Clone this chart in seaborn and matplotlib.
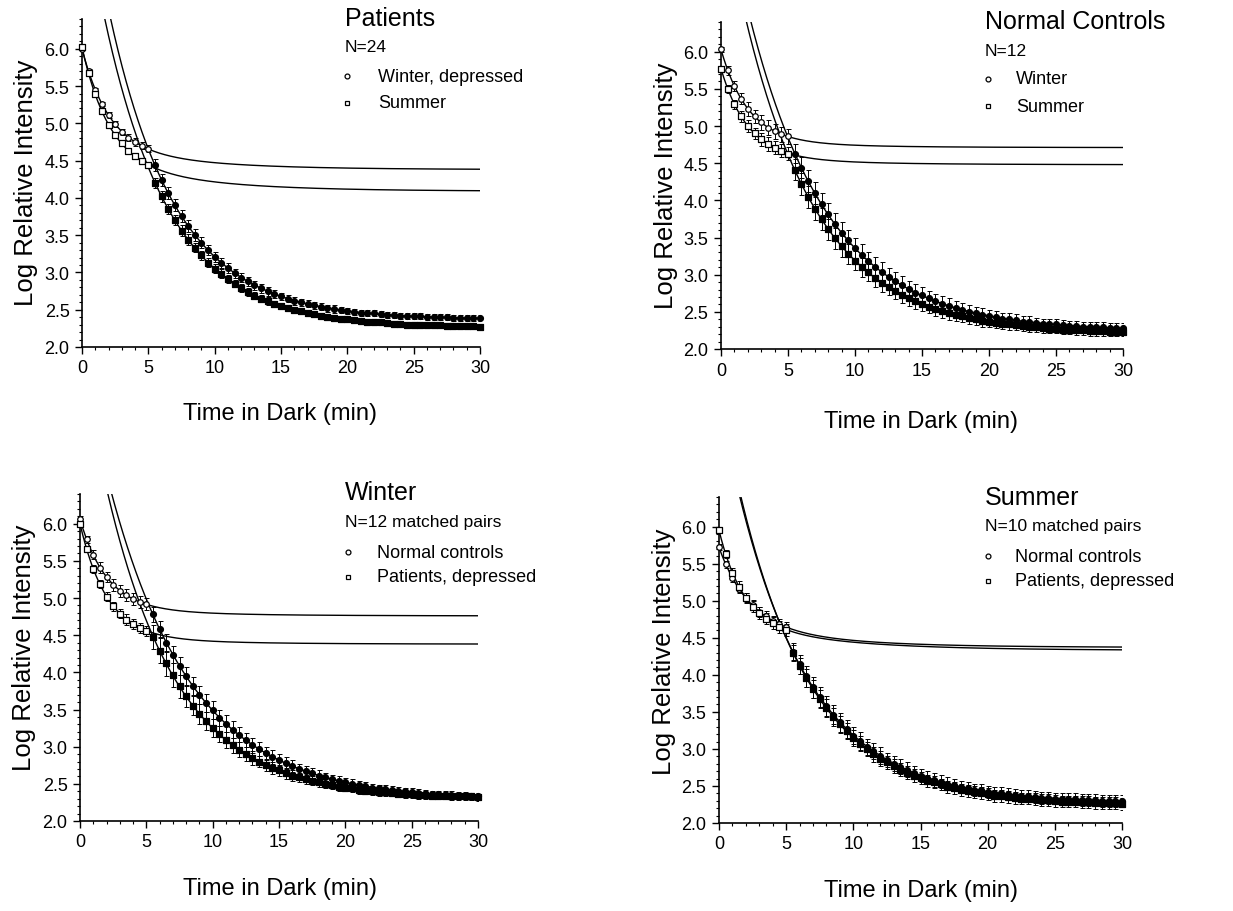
import numpy as np
import pandas as pd
import matplotlib
matplotlib.use("Agg")
import matplotlib.pyplot as plt
import seaborn as sns
from matplotlib.ticker import MultipleLocator, FormatStrFormatter
from matplotlib.lines import Line2D

sns.set_theme(style="ticks")
plt.rcParams['font.family'] = ['Liberation Sans', 'DejaVu Sans']
plt.rcParams['text.color'] = 'black'
plt.rcParams['axes.labelcolor'] = 'black'
plt.rcParams['xtick.color'] = 'black'
plt.rcParams['ytick.color'] = 'black'

# ---------------- time grid (min) ----------------
T_CONE = np.arange(0, 5.01, 0.5)      # open symbols (cone phase)
T_ROD = np.arange(5.5, 30.01, 0.5)    # filled symbols (rod phase)

# ---------------- Panel 1: Patients, N=24 ----------------
p1_winter_cone = [6.00, 5.70, 5.45, 5.26, 5.11, 4.99, 4.89, 4.81, 4.75, 4.70, 4.66]
p1_winter_rod = [4.44, 4.24, 4.06, 3.90, 3.76, 3.62, 3.50, 3.40, 3.30, 3.21,
                 3.13, 3.06, 2.99, 2.93, 2.88, 2.83, 2.79, 2.75, 2.71, 2.68,
                 2.65, 2.62, 2.60, 2.58, 2.56, 2.54, 2.52, 2.51, 2.50, 2.48,
                 2.47, 2.46, 2.45, 2.45, 2.44, 2.43, 2.43, 2.42, 2.42, 2.41,
                 2.41, 2.40, 2.40, 2.40, 2.40, 2.39, 2.39, 2.39, 2.39, 2.39]
p1_winter_cone_sem = [0.02, 0.03, 0.03, 0.03, 0.04, 0.04, 0.04, 0.05, 0.05, 0.05, 0.05]
p1_winter_rod_sem = [0.08, 0.08, 0.08, 0.08, 0.08, 0.08, 0.08, 0.07, 0.07, 0.07,
                     0.07, 0.07, 0.06, 0.06, 0.06, 0.06, 0.06, 0.06, 0.05, 0.05,
                     0.05, 0.05, 0.05, 0.05, 0.05, 0.05, 0.05, 0.05, 0.04, 0.04,
                     0.04, 0.04, 0.04, 0.04, 0.04, 0.04, 0.04, 0.04, 0.04, 0.04,
                     0.04, 0.04, 0.04, 0.04, 0.04, 0.04, 0.04, 0.04, 0.04, 0.04]
p1_summer_cone = [6.02, 5.67, 5.39, 5.16, 4.98, 4.84, 4.73, 4.63, 4.56, 4.50, 4.44]
p1_summer_rod = [4.20, 4.02, 3.85, 3.70, 3.56, 3.44, 3.33, 3.23, 3.13, 3.05,
                 2.98, 2.91, 2.85, 2.79, 2.74, 2.69, 2.65, 2.62, 2.58, 2.55,
                 2.52, 2.50, 2.48, 2.46, 2.44, 2.42, 2.40, 2.39, 2.38, 2.37,
                 2.36, 2.35, 2.34, 2.33, 2.33, 2.32, 2.31, 2.31, 2.30, 2.30,
                 2.30, 2.29, 2.29, 2.29, 2.28, 2.28, 2.28, 2.28, 2.28, 2.27]
p1_summer_cone_sem = [0.02, 0.03, 0.03, 0.03, 0.03, 0.04, 0.04, 0.04, 0.04, 0.04, 0.04]
p1_summer_rod_sem = [0.07, 0.07, 0.07, 0.07, 0.07, 0.07, 0.06, 0.06, 0.06, 0.06,
                     0.06, 0.05, 0.05, 0.05, 0.05, 0.05, 0.05, 0.05, 0.04, 0.04,
                     0.04, 0.04, 0.04, 0.04, 0.04, 0.04, 0.04, 0.04, 0.04, 0.04,
                     0.04, 0.04, 0.04, 0.04, 0.04, 0.04, 0.04, 0.04, 0.04, 0.04,
                     0.04, 0.04, 0.04, 0.04, 0.04, 0.04, 0.04, 0.04, 0.04, 0.04]
# fitted curve parameters: cone = plateau, fast amp, fast tau, slow amp, slow tau
p1_winter_cone_fit = [4.38, 1.27, 2.0, 0.35, 7.0]
p1_winter_rod_fit = [2.37, 6.21, 5.0]   # plateau, amplitude, tau
p1_summer_cone_fit = [4.09, 1.45, 2.0, 0.48, 7.0]
p1_summer_rod_fit = [2.26, 5.84, 5.0]

# ---------------- Panel 2: Normal Controls, N=12 ----------------
p2_winter_cone = [6.03, 5.75, 5.54, 5.37, 5.23, 5.13, 5.05, 4.98, 4.93, 4.89, 4.86]
p2_winter_rod = [4.63, 4.44, 4.26, 4.10, 3.95, 3.81, 3.68, 3.56, 3.46, 3.36,
                 3.27, 3.18, 3.11, 3.04, 2.97, 2.91, 2.86, 2.81, 2.76, 2.72,
                 2.68, 2.64, 2.61, 2.58, 2.55, 2.53, 2.50, 2.48, 2.46, 2.45,
                 2.43, 2.41, 2.40, 2.39, 2.37, 2.36, 2.35, 2.34, 2.34, 2.33,
                 2.32, 2.31, 2.31, 2.30, 2.30, 2.29, 2.29, 2.28, 2.28, 2.28]
p2_winter_cone_sem = [0.04, 0.06, 0.07, 0.08, 0.09, 0.09, 0.10, 0.10, 0.10, 0.10, 0.10]
p2_winter_rod_sem = [0.13, 0.14, 0.15, 0.15, 0.15, 0.15, 0.15, 0.15, 0.14, 0.14,
                     0.14, 0.13, 0.13, 0.13, 0.12, 0.12, 0.12, 0.11, 0.11, 0.11,
                     0.10, 0.10, 0.10, 0.10, 0.09, 0.09, 0.09, 0.09, 0.09, 0.08,
                     0.08, 0.08, 0.08, 0.08, 0.08, 0.08, 0.07, 0.07, 0.07, 0.07,
                     0.07, 0.07, 0.07, 0.07, 0.07, 0.07, 0.07, 0.07, 0.07, 0.07]
p2_summer_cone = [5.77, 5.50, 5.29, 5.13, 5.00, 4.90, 4.82, 4.76, 4.71, 4.67, 4.63]
p2_summer_rod = [4.41, 4.22, 4.05, 3.89, 3.75, 3.61, 3.49, 3.38, 3.28, 3.19,
                 3.10, 3.03, 2.96, 2.89, 2.83, 2.78, 2.73, 2.68, 2.64, 2.61,
                 2.57, 2.54, 2.51, 2.48, 2.46, 2.44, 2.42, 2.40, 2.38, 2.37,
                 2.35, 2.34, 2.33, 2.32, 2.31, 2.30, 2.29, 2.28, 2.27, 2.27,
                 2.26, 2.26, 2.25, 2.25, 2.24, 2.24, 2.24, 2.23, 2.23, 2.23]
p2_summer_cone_sem = [0.04, 0.05, 0.06, 0.07, 0.08, 0.08, 0.09, 0.09, 0.09, 0.09, 0.09]
p2_summer_rod_sem = [0.14, 0.15, 0.15, 0.15, 0.15, 0.14, 0.14, 0.14, 0.13, 0.13,
                     0.13, 0.12, 0.12, 0.12, 0.11, 0.11, 0.11, 0.10, 0.10, 0.10,
                     0.09, 0.09, 0.09, 0.09, 0.08, 0.08, 0.08, 0.08, 0.08, 0.07,
                     0.07, 0.07, 0.07, 0.07, 0.07, 0.07, 0.06, 0.06, 0.06, 0.06,
                     0.06, 0.06, 0.06, 0.06, 0.06, 0.06, 0.06, 0.06, 0.06, 0.06]
p2_winter_cone_fit = [4.71, 1.22, 2.0, 0.10, 7.0]
p2_winter_rod_fit = [2.24, 6.08, 5.9]
p2_summer_cone_fit = [4.48, 1.17, 2.0, 0.12, 7.0]
p2_summer_rod_fit = [2.20, 5.90, 5.6]

# ---------------- Panel 3: Winter, N=12 matched pairs ----------------
p3_controls_cone = [6.06, 5.79, 5.58, 5.41, 5.28, 5.18, 5.10, 5.04, 4.99, 4.95, 4.92]
p3_controls_rod = [4.78, 4.58, 4.40, 4.24, 4.09, 3.95, 3.82, 3.70, 3.59, 3.49,
                   3.39, 3.31, 3.23, 3.16, 3.09, 3.02, 2.97, 2.91, 2.86, 2.82,
                   2.78, 2.74, 2.70, 2.67, 2.64, 2.61, 2.59, 2.56, 2.54, 2.52,
                   2.50, 2.48, 2.47, 2.45, 2.44, 2.43, 2.42, 2.41, 2.40, 2.39,
                   2.38, 2.37, 2.36, 2.36, 2.35, 2.35, 2.34, 2.34, 2.33, 2.33]
p3_controls_cone_sem = [0.04, 0.05, 0.06, 0.07, 0.07, 0.08, 0.08, 0.08, 0.08, 0.08, 0.08]
p3_controls_rod_sem = [0.10, 0.11, 0.12, 0.12, 0.12, 0.12, 0.12, 0.12, 0.12, 0.12,
                       0.11, 0.11, 0.11, 0.10, 0.10, 0.10, 0.09, 0.09, 0.09, 0.08,
                       0.08, 0.08, 0.07, 0.07, 0.07, 0.07, 0.06, 0.06, 0.06, 0.06,
                       0.06, 0.06, 0.05, 0.05, 0.05, 0.05, 0.05, 0.05, 0.05, 0.05,
                       0.05, 0.05, 0.05, 0.05, 0.05, 0.05, 0.05, 0.05, 0.05, 0.05]
p3_patients_cone = [6.00, 5.66, 5.39, 5.19, 5.02, 4.89, 4.79, 4.71, 4.65, 4.60, 4.56]
p3_patients_rod = [4.48, 4.29, 4.12, 3.96, 3.81, 3.68, 3.55, 3.44, 3.34, 3.25,
                   3.17, 3.09, 3.02, 2.96, 2.90, 2.85, 2.80, 2.75, 2.71, 2.68,
                   2.64, 2.61, 2.59, 2.56, 2.54, 2.52, 2.50, 2.48, 2.46, 2.45,
                   2.44, 2.42, 2.41, 2.40, 2.39, 2.39, 2.38, 2.37, 2.36, 2.36,
                   2.35, 2.35, 2.34, 2.34, 2.34, 2.33, 2.33, 2.33, 2.33, 2.32]
p3_patients_cone_sem = [0.04, 0.04, 0.05, 0.05, 0.06, 0.06, 0.06, 0.07, 0.07, 0.07, 0.07]
p3_patients_rod_sem = [0.16, 0.17, 0.17, 0.16, 0.15, 0.14, 0.13, 0.13, 0.12, 0.12,
                       0.11, 0.11, 0.10, 0.10, 0.09, 0.09, 0.08, 0.08, 0.08, 0.07,
                       0.07, 0.07, 0.06, 0.06, 0.06, 0.06, 0.06, 0.05, 0.05, 0.05,
                       0.05, 0.05, 0.05, 0.05, 0.05, 0.05, 0.05, 0.05, 0.05, 0.05,
                       0.05, 0.05, 0.05, 0.05, 0.05, 0.05, 0.05, 0.05, 0.05, 0.05]
p3_controls_cone_fit = [4.76, 1.18, 2.0, 0.12, 7.0]
p3_controls_rod_fit = [2.28, 6.06, 6.2]
p3_patients_cone_fit = [4.38, 1.50, 2.0, 0.12, 7.0]
p3_patients_rod_fit = [2.30, 6.05, 5.4]

# ---------------- Panel 4: Summer, N=10 matched pairs ----------------
p4_controls_cone = [5.72, 5.49, 5.31, 5.16, 5.04, 4.94, 4.85, 4.79, 4.73, 4.68, 4.64]
p4_controls_rod = [4.31, 4.14, 3.98, 3.83, 3.70, 3.58, 3.46, 3.36, 3.27, 3.18,
                   3.11, 3.03, 2.97, 2.91, 2.85, 2.80, 2.76, 2.72, 2.68, 2.64,
                   2.61, 2.58, 2.56, 2.53, 2.51, 2.49, 2.47, 2.45, 2.44, 2.42,
                   2.41, 2.40, 2.39, 2.38, 2.37, 2.36, 2.35, 2.34, 2.34, 2.33,
                   2.33, 2.32, 2.32, 2.31, 2.31, 2.31, 2.30, 2.30, 2.30, 2.30]
p4_controls_cone_sem = [0.04, 0.05, 0.06, 0.06, 0.06, 0.07, 0.07, 0.07, 0.07, 0.07, 0.07]
p4_controls_rod_sem = [0.12, 0.13, 0.14, 0.14, 0.14, 0.13, 0.13, 0.13, 0.12, 0.12,
                       0.12, 0.11, 0.11, 0.11, 0.10, 0.10, 0.10, 0.10, 0.09, 0.09,
                       0.09, 0.09, 0.09, 0.09, 0.08, 0.08, 0.08, 0.08, 0.08, 0.08,
                       0.08, 0.08, 0.08, 0.08, 0.08, 0.08, 0.08, 0.08, 0.08, 0.08,
                       0.08, 0.08, 0.08, 0.08, 0.08, 0.08, 0.08, 0.08, 0.08, 0.08]
p4_patients_cone = [5.95, 5.63, 5.38, 5.19, 5.04, 4.92, 4.83, 4.76, 4.70, 4.65, 4.61]
p4_patients_rod = [4.30, 4.12, 3.96, 3.81, 3.67, 3.55, 3.43, 3.33, 3.24, 3.15,
                   3.07, 3.00, 2.93, 2.87, 2.82, 2.77, 2.72, 2.68, 2.64, 2.61,
                   2.57, 2.55, 2.52, 2.49, 2.47, 2.45, 2.43, 2.42, 2.40, 2.39,
                   2.37, 2.36, 2.35, 2.34, 2.33, 2.33, 2.32, 2.31, 2.31, 2.30,
                   2.29, 2.29, 2.29, 2.28, 2.28, 2.27, 2.27, 2.27, 2.27, 2.26]
p4_patients_cone_sem = [0.04, 0.05, 0.06, 0.07, 0.07, 0.07, 0.08, 0.08, 0.08, 0.08, 0.08]
p4_patients_rod_sem = [0.10, 0.11, 0.12, 0.12, 0.12, 0.12, 0.12, 0.11, 0.11, 0.11,
                       0.10, 0.10, 0.10, 0.10, 0.09, 0.09, 0.09, 0.09, 0.09, 0.08,
                       0.08, 0.08, 0.08, 0.08, 0.08, 0.08, 0.08, 0.08, 0.08, 0.08,
                       0.08, 0.08, 0.08, 0.08, 0.08, 0.08, 0.08, 0.08, 0.08, 0.08,
                       0.08, 0.08, 0.08, 0.08, 0.08, 0.08, 0.08, 0.08, 0.08, 0.08]
p4_controls_cone_fit = [4.37, 1.00, 2.2, 0.35, 7.0]
p4_controls_rod_fit = [2.27, 5.45, 5.6]
p4_patients_cone_fit = [4.33, 1.22, 1.8, 0.40, 7.5]
p4_patients_rod_fit = [2.24, 5.60, 5.5]

# ---------------- texts ----------------
titles = ["Patients", "Normal Controls", "Winter", "Summer"]
subtitles = ["N=24", "N=12", "N=12 matched pairs", "N=10 matched pairs"]
legend_labels = [["Winter, depressed", "Summer"],
                 ["Winter", "Summer"],
                 ["Normal controls", "Patients, depressed"],
                 ["Normal controls", "Patients, depressed"]]
x_label = "Time in Dark (min)"
y_label = "Log Relative Intensity"

panels = [
    [(p1_winter_cone, p1_winter_rod, p1_winter_cone_sem, p1_winter_rod_sem, p1_winter_cone_fit, p1_winter_rod_fit, 'o'),
     (p1_summer_cone, p1_summer_rod, p1_summer_cone_sem, p1_summer_rod_sem, p1_summer_cone_fit, p1_summer_rod_fit, 's')],
    [(p2_winter_cone, p2_winter_rod, p2_winter_cone_sem, p2_winter_rod_sem, p2_winter_cone_fit, p2_winter_rod_fit, 'o'),
     (p2_summer_cone, p2_summer_rod, p2_summer_cone_sem, p2_summer_rod_sem, p2_summer_cone_fit, p2_summer_rod_fit, 's')],
    [(p3_controls_cone, p3_controls_rod, p3_controls_cone_sem, p3_controls_rod_sem, p3_controls_cone_fit, p3_controls_rod_fit, 'o'),
     (p3_patients_cone, p3_patients_rod, p3_patients_cone_sem, p3_patients_rod_sem, p3_patients_cone_fit, p3_patients_rod_fit, 's')],
    [(p4_controls_cone, p4_controls_rod, p4_controls_cone_sem, p4_controls_rod_sem, p4_controls_cone_fit, p4_controls_rod_fit, 'o'),
     (p4_patients_cone, p4_patients_rod, p4_patients_cone_sem, p4_patients_rod_sem, p4_patients_cone_fit, p4_patients_rod_fit, 's')],
]

# ---------------- layout (figure pixels) ----------------
W, H = 1233, 912
axes_px = [(82, 20, 480, 348), (721, 23, 1123, 350), (80, 495, 478, 822), (719, 498, 1122, 824)]
title_px = [(345, 19), (985, 22), (345, 493), (985, 498)]
sub_px = [(345, 48), (985, 52), (345, 523), (985, 527)]
row_px = [((347, 378), 77, 104), ((988, 1016), 80, 107), ((348, 377), 553, 578), ((988, 1015), 557, 582)]
ylabel_px = [(26, 183), (666, 186), (24, 648), (664, 652)]
xlabel_px = [(280, 414), (921, 422), (280, 889), (921, 891)]

fig = plt.figure(figsize=(W / 100, H / 100), dpi=100)
t_fine = np.linspace(0, 30, 1201)


def fx(px):
    return px / W


def fy(py):
    return 1 - py / H


for i, series in enumerate(panels):
    x0, y0, x1, y1 = axes_px[i]
    ax = fig.add_axes([fx(x0), fy(y1), (x1 - x0) / W, (y1 - y0) / H])
    for cone, rod, cone_sem, rod_sem, cfit, rfit, mk in series:
        P, a1, tau1, a2, tau2 = cfit
        cone_curve = P + a1 * np.exp(-t_fine / tau1) + a2 * np.exp(-t_fine / tau2)
        R, B, taur = rfit
        rod_curve = R + B * np.exp(-t_fine / taur)
        sns.lineplot(x=t_fine, y=cone_curve, ax=ax, color='black', linewidth=1.0,
                     estimator=None, sort=False, legend=False, zorder=2)
        sns.lineplot(x=t_fine, y=rod_curve, ax=ax, color='black', linewidth=1.0,
                     estimator=None, sort=False, legend=False, zorder=2)
        ax.errorbar(T_CONE, cone, yerr=cone_sem, fmt='none', ecolor='black',
                    elinewidth=0.7, capsize=1.8, capthick=0.7, zorder=3)
        ax.errorbar(T_ROD, rod, yerr=rod_sem, fmt='none', ecolor='black',
                    elinewidth=0.7, capsize=1.8, capthick=0.7, zorder=3)
        sns.scatterplot(x=T_CONE, y=cone, ax=ax, marker=mk, s=16, color='white',
                        edgecolor='black', linewidth=0.9, zorder=4, clip_on=False, legend=False)
        sns.scatterplot(x=T_ROD, y=rod, ax=ax, marker=mk, s=18, color='black',
                        edgecolor='black', linewidth=0.9, zorder=4, clip_on=False, legend=False)

    ax.set_xlim(0, 30)
    ax.set_ylim(2.0, 6.4)
    ax.xaxis.set_major_locator(MultipleLocator(5))
    ax.xaxis.set_minor_locator(MultipleLocator(1))
    ax.set_yticks(np.arange(2.0, 6.01, 0.5))
    ax.yaxis.set_minor_locator(MultipleLocator(0.1))
    ax.yaxis.set_major_formatter(FormatStrFormatter('%.1f'))
    ax.tick_params(which='major', direction='out', length=5, width=1.0, labelsize=13, pad=4, color='black',
                   labelcolor='black')
    ax.tick_params(which='minor', direction='out', length=2.5, width=0.8, color='black')
    sns.despine(ax=ax)
    for s in ['left', 'bottom']:
        ax.spines[s].set_linewidth(1.2)
        ax.spines[s].set_color('black')
    ax.set_xlabel('')
    ax.set_ylabel('')
    ax.set_facecolor('white')

    fig.text(fx(xlabel_px[i][0]), fy(xlabel_px[i][1]), x_label, ha='center', va='center', fontsize=17,
             color='black')
    fig.text(fx(ylabel_px[i][0]), fy(ylabel_px[i][1]), y_label, ha='center', va='center', fontsize=18.5,
             rotation=90, color='black')
    fig.text(fx(title_px[i][0]), fy(title_px[i][1]), titles[i], ha='left', va='center', fontsize=18,
             color='black')
    fig.text(fx(sub_px[i][0]), fy(sub_px[i][1]), subtitles[i], ha='left', va='center', fontsize=12.5,
             color='black')
    (mx, lx), r1, r2 = row_px[i]
    for (mk, lab, ry) in [('o', legend_labels[i][0], r1), ('s', legend_labels[i][1], r2)]:
        fig.add_artist(Line2D([fx(mx)], [fy(ry)], marker=mk, markersize=3.5, markerfacecolor='white',
                              markeredgecolor='black', markeredgewidth=0.9, linestyle='none',
                              transform=fig.transFigure))
        fig.text(fx(lx), fy(ry), lab, ha='left', va='center', fontsize=13, color='black')

fig.savefig("out.png", dpi=100, facecolor='white')
